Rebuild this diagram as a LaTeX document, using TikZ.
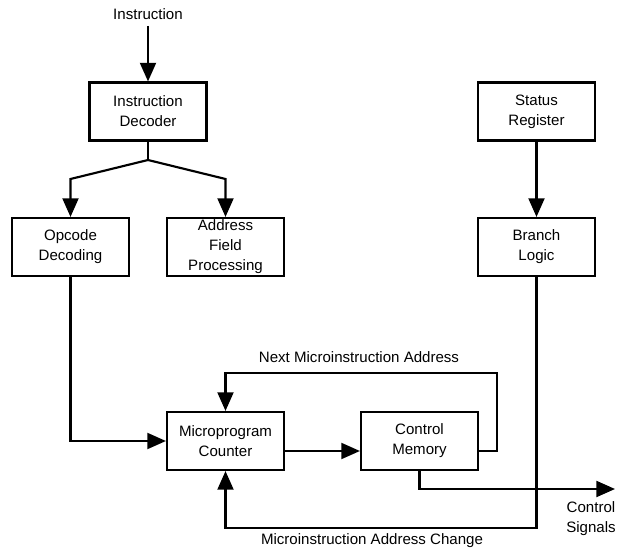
\documentclass[tikz,border=0pt]{standalone}
\usepackage{fontspec}
\setmainfont{Liberation Sans}
\usetikzlibrary{arrows.meta}
\begin{document}
\begin{tikzpicture}[x=0.75pt,y=-0.75pt,
  blk/.style={draw=black,line width=1.6pt,fill=white,minimum width=87.75pt,minimum height=43.5pt,align=center,font=\fontsize{11.3}{15}\selectfont,inner sep=1pt},
  lbl/.style={align=center,font=\fontsize{11.3}{15}\selectfont,inner sep=0pt},
  conn/.style={line width=1.6pt},
  arr/.style={line width=1.6pt,-{Triangle[length=14pt,width=12pt]}}]
\useasboundingbox (0,0) rectangle (617,552);
\node[blk] (dec) at (148,111.5) {Instruction\\Decoder};
\node[blk] (opc) at (70.5,247) {Opcode\\Decoding};
\node[blk] (adr) at (225.5,247) {Address\\Field\\Processing};
\node[blk] (sr) at (536.5,111.5) {Status\\Register};
\node[blk] (bl) at (536.5,247) {Branch\\Logic};
\node[blk] (mpc) at (225.5,441) {Microprogram\\Counter};
\node[blk] (cm) at (419.5,441) {Control\\Memory};
\node[lbl] (ins) at (148,14) {Instruction};
\node[lbl] (nma) at (359,357) {Next Microinstruction Address};
\node[lbl] (mac) at (372,541) {Microinstruction Address Change};
\node[lbl] (cs) at (591,519) {Control\\Signals};
\coordinate (insb) at (148,26);
\coordinate (fk) at (148,160);
\coordinate (fl) at (70.5,179);
\coordinate (fr) at (225.5,179);
\coordinate (nr) at (497,373);
\coordinate (br) at (536.5,528);
\coordinate (out) at (615,489);
\draw[arr] (insb) -- (dec.north);
\draw[conn] (dec.south) -- (fk);
\draw[arr] (fk) -- (fl) -- (opc.north);
\draw[arr] (fk) -- (fr) -- (adr.north);
\draw[arr] (sr.south) -- (bl.north);
\draw[arr] (opc.south) |- (mpc.west);
\draw[arr] ([yshift=-7.5pt]mpc.east) -- ([yshift=-7.5pt]cm.west);
\draw[arr] ([yshift=-7.5pt]cm.east) -| (nr) -| (mpc.north);
\draw[arr] (cm.south) |- (out);
\draw[arr] (bl.south) -- (br) -| (mpc.south);
\end{tikzpicture}
\end{document}
